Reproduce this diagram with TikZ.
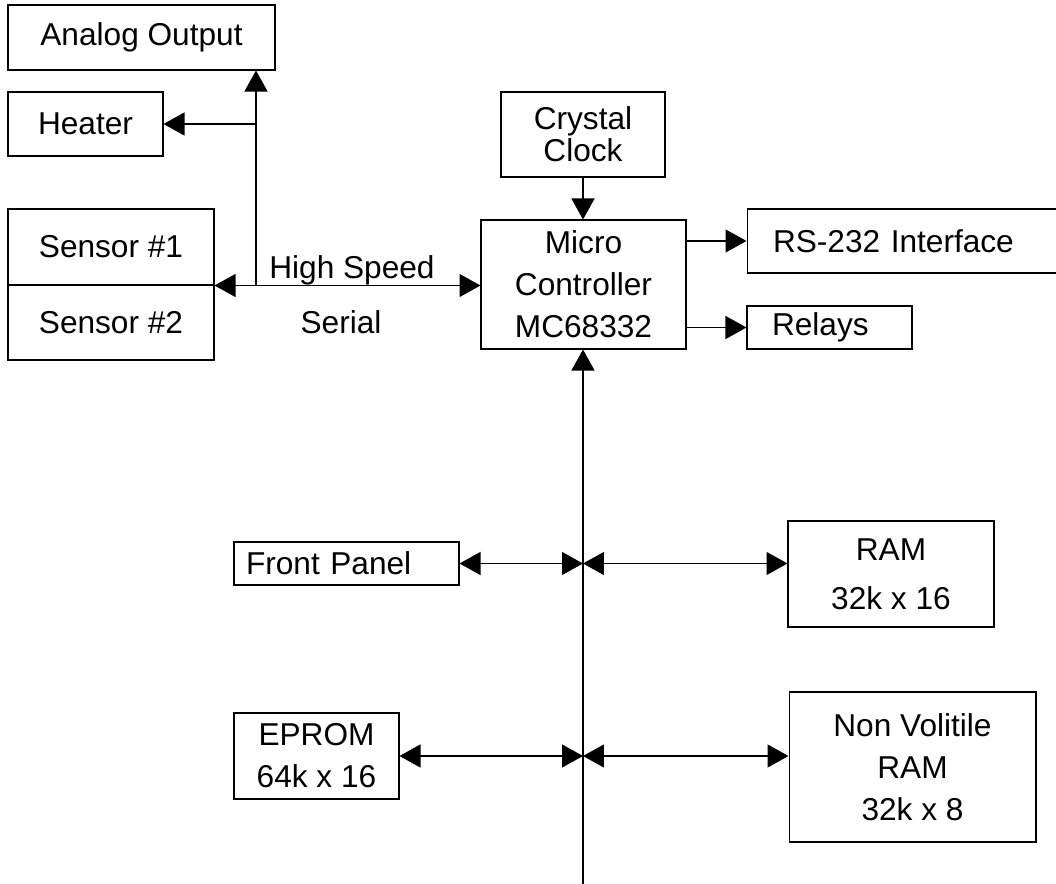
\documentclass[tikz,border=0pt]{standalone}
\usepackage{fontspec}
\setmainfont{Liberation Sans}
\usetikzlibrary{arrows.meta}
\begin{document}
\begin{tikzpicture}[
    x=0.02cm, y=-0.02cm,
    box/.style={draw, line width=0.6pt, inner sep=0pt, align=center, font=\fontsize{18}{24}\selectfont},
    lbox/.style={box, align=left, inner xsep=#1},
    txt/.style={inner sep=0pt, font=\fontsize{18}{24}\selectfont},
    arr/.style={line width=0.7pt, -{Triangle[length=0.42cm,width=0.46cm]}},
    dbl/.style={line width=0.7pt, {Triangle[length=0.42cm,width=0.46cm]}-{Triangle[length=0.42cm,width=0.46cm]}}
]
\useasboundingbox (0,0) rectangle (1056,884);

% Blocchi
\node[box, minimum width=5.34cm, minimum height=1.3cm] (analog) at (141.5,37.5) {Analog Output};
\node[box, minimum width=3.1cm, minimum height=1.28cm] (heater) at (85.5,124) {Heater};
\node[box, minimum width=4.12cm, minimum height=1.52cm] (sensA) at (111,247) {Sensor \#1};
\node[box, minimum width=4.12cm, minimum height=1.5cm] (sensB) at (111,322.5) {Sensor \#2};
\node[box, minimum width=3.28cm, minimum height=1.7cm] (clock) at (583,134.5) {Crystal\\[-6pt]Clock};
\node[box, minimum width=4.1cm, minimum height=2.58cm] (mc) at (583.5,284.5) {Micro\\Controller\\MC68332};
\node[lbox=0.52cm, text width=5.26cm, minimum height=1.28cm] (rs) at (904.5,241) {RS-232 Interface};
\node[lbox=0.5cm, text width=2.3cm, minimum height=0.86cm] (relays) at (829.5,327.5) {Relays};
\node[lbox=0.24cm, text width=4.02cm, minimum height=0.86cm] (front) at (346.5,563.5) {Front Panel};
\node[box, minimum width=4.12cm, minimum height=2.12cm] (ram) at (891,574) {RAM\\[4pt]32k x 16};
\node[box, minimum width=3.3cm, minimum height=1.72cm] (eprom) at (316.5,756) {EPROM\\64k x 16};
\node[box, minimum width=4.94cm, minimum height=3cm] (nvram) at (912.5,767) {Non Volitile\\RAM\\32k x 8};
\node[txt] (hs) at (352,270) {High Speed};
\node[txt] (serial) at (341,322) {Serial};

% Bus e diramazioni
\coordinate (tap) at (256,285);
\coordinate (htap) at (256,124);
\coordinate (bus) at (583,886);
\coordinate (j1) at (583,563.5);
\coordinate (j2) at (583,756);

\draw[dbl] (sensA.south east) -- (mc.west |- sensA.south east);
\draw[arr] (tap) -- (tap |- analog.south);
\draw[arr] (htap) -- (heater.east);
\draw[arr] (clock.south) -- (clock.south |- mc.north);
\draw[arr] (mc.east |- rs.west) -- (rs.west);
\draw[arr] (mc.east |- relays.west) -- (relays.west);
\draw[arr] (bus) -- (bus |- mc.south);
\draw[dbl] (front.east) -- (j1);
\draw[dbl] (j1) -- (ram.west |- j1);
\draw[dbl] (eprom.east) -- (j2);
\draw[dbl] (j2) -- (nvram.west |- j2);
\end{tikzpicture}
\end{document}
